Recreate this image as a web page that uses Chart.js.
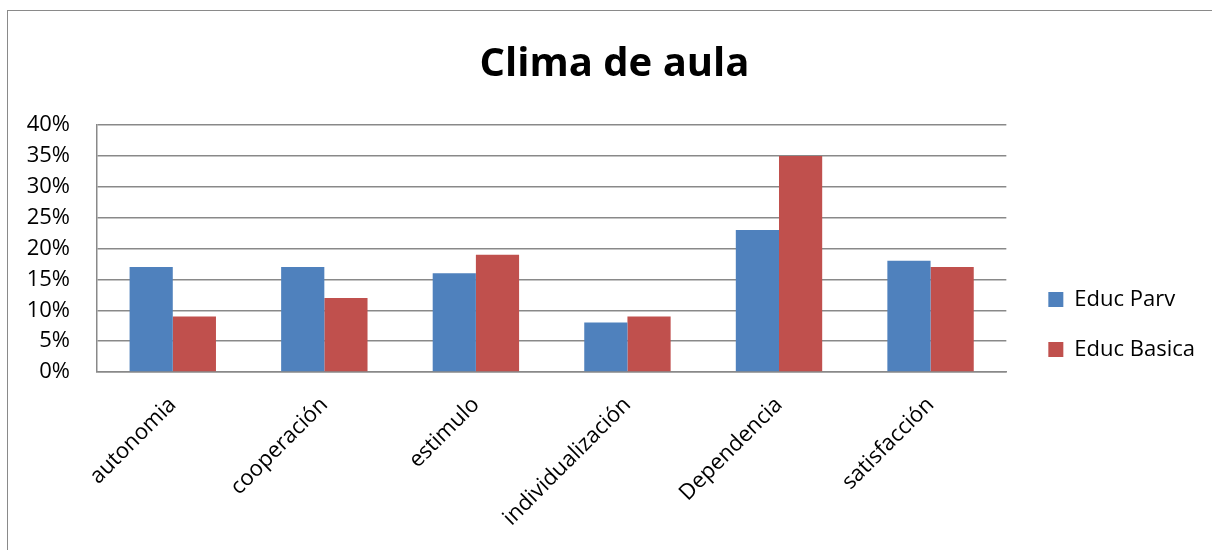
<!DOCTYPE html>
<html>
<head>
<meta charset="utf-8">
<script src="https://cdn.jsdelivr.net/npm/chart.js@4"></script>
<style>
  html, body { margin: 0; padding: 0; background: #fff; overflow: hidden; }
  #frame { position: absolute; left: 7px; top: 10px; width: 1300px; height: 600px; border: 1.5px solid #8a8a8a; }
  #box { position: absolute; left: 8px; top: 11px; width: 1213px; height: 539px; }
</style>
</head>
<body>
<div id="frame"></div>
<div id="box"><canvas id="mycanvas"></canvas></div>
<script>
var categorias = ['autonomia', 'cooperación', 'estimulo', 'individualización', 'Dependencia', 'satisfacción'];
var educParv = [17, 17, 16, 8, 23, 18];
var educBasica = [9, 12, 19, 9, 35, 17];
var ticksY = [0, 5, 10, 15, 20, 25, 30, 35, 40];

var fuente = "'Open Sans', sans-serif";
var gris = '#898989';

var chartdata = {
    labels: categorias,
    datasets: [{
        label: 'Educ Parv',
        backgroundColor: '#4F81BD',
        data: educParv
    }, {
        label: 'Educ Basica',
        backgroundColor: '#C0504D',
        data: educBasica
    }]
};

var ctx = document.getElementById('mycanvas');

var barGraph = new Chart(ctx, {
    type: 'bar',
    data: chartdata,
    options: {
        responsive: true,
        maintainAspectRatio: false,
        animation: false,
        datasets: {
            bar: { categoryPercentage: 0.57, barPercentage: 1 }
        },
        layout: { padding: { left: 16, right: 16, top: 0, bottom: 0 } },
        plugins: {
            title: {
                display: true,
                text: 'Clima de aula',
                color: '#000',
                font: { family: fuente, size: 40, weight: 'bold' },
                padding: { top: 30, bottom: 36 }
            },
            legend: {
                position: 'right',
                title: {
                    display: true,
                    text: '',
                    font: { size: 5 },
                    padding: { top: 0, bottom: 82 }
                },
                labels: {
                    color: '#000',
                    font: { family: fuente, size: 22 },
                    boxWidth: 15,
                    boxHeight: 15,
                    padding: 28
                }
            },
            tooltip: { enabled: false }
        },
        scales: {
            x: {
                grid: { display: false },
                border: { display: true, color: gris, width: 1.5 },
                ticks: {
                    color: '#000',
                    font: { family: fuente, size: 22 },
                    minRotation: 45,
                    maxRotation: 45,
                    padding: 12
                },
                afterFit: function (s) { s.height = 178; }
            },
            y: {
                min: ticksY[0],
                max: ticksY[ticksY.length - 1],
                afterBuildTicks: function (s) {
                    s.ticks = ticksY.map(function (v) { return { value: v }; });
                },
                grid: { color: gris, lineWidth: 1.5, drawTicks: false },
                border: { display: true, color: gris, width: 1.5 },
                ticks: {
                    color: '#000',
                    font: { family: fuente, size: 22 },
                    padding: 27,
                    callback: function (v) { return v + '%'; }
                },
                afterFit: function (s) { s.width = 73; }
            },
            y2: {
                position: 'right',
                display: true,
                grid: { display: false },
                border: { display: false },
                ticks: { display: false },
                afterFit: function (s) { s.width = 14; }
            }
        }
    }
});
</script>
</body>
</html>
